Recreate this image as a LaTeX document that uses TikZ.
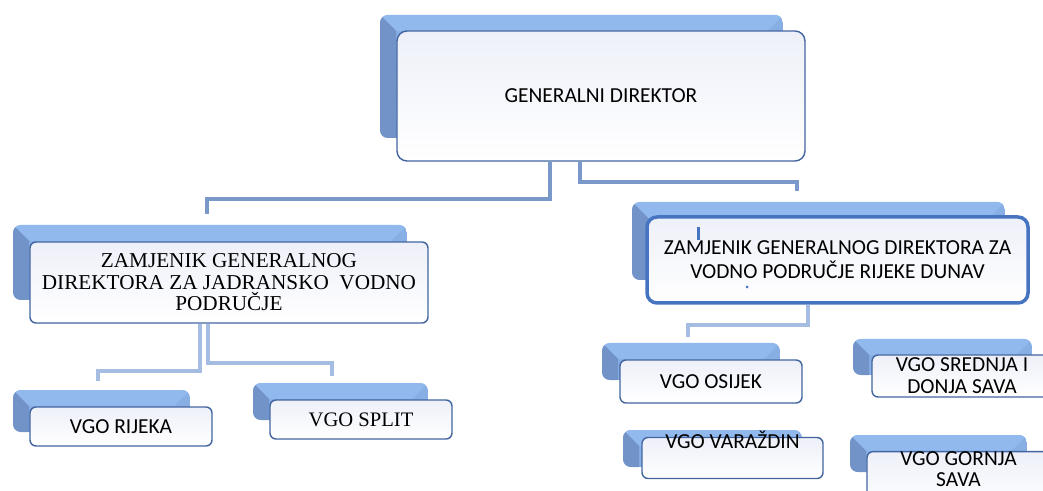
\documentclass[tikz,border=0pt]{standalone}
\usepackage{fontspec}
\setmainfont{Carlito}
\newfontfamily\timesfont{Liberation Serif}
\definecolor{backblue}{RGB}{136,175,228}
\definecolor{backtop}{RGB}{146,185,238}
\definecolor{backside}{RGB}{114,147,199}
\definecolor{frontfill}{RGB}{238,240,249}
\definecolor{frontline}{RGB}{66,101,160}
\definecolor{thickline}{RGB}{70,116,192}
\definecolor{linkdark}{RGB}{122,152,202}
\definecolor{linklight}{RGB}{166,189,227}
\tikzset{
    frontbox/.style={draw=frontline, line width=0.7pt, rounded corners=3pt,
        top color=frontfill, bottom color=white, align=center, inner sep=0pt,
        font=\fontsize{10.7}{11}\selectfont},
    link/.style={linkdark, line width=2pt},
    sublink/.style={linklight, line width=2pt}
}
\begin{document}
\begin{tikzpicture}[x=0.5pt,y=-0.5pt]
                \useasboundingbox (0,0) rectangle (1043,491);
                \foreach \xa/\ya/\xb/\yb in {380/15/783/138,13/225/407/300,632/202/1005/280,
                    13/390/190/432,253/383/428/420,602/343/780/380,853/339/1032/375,
                    623/430/802/467,850/435/1027/472}
                {
                    \begin{scope}
                        \clip[rounded corners=4pt] (\xa,\ya) rectangle (\xb,\yb);
                        \fill[backblue] (\xa,\ya) rectangle (\xb,\yb);
                        \fill[backtop] (\xa,\ya) -- (\xb,\ya) -- (\xb-16,\ya+16) -- (\xa+16,\ya+16) -- cycle;
                        \fill[backside] (\xa,\ya) -- (\xa+16,\ya+16) -- (\xa+16,\yb) -- (\xa,\yb) -- cycle;
                    \end{scope}
                }
                \node[frontbox, rounded corners=5pt, minimum width=204pt, minimum height=65pt] (gd) at (601,96) {GENERALNI DIREKTOR};
                \node[frontbox, minimum width=199pt, minimum height=40.5pt, font=\timesfont\fontsize{10.6}{10.75}\selectfont] (zjj) at (229,282.5)
                    {ZAMJENIK GENERALNOG\\DIREKTORA ZA JADRANSKO\ \ VODNO\\PODRUČJE};
                \node[frontbox, draw=thickline, line width=1.75pt, rounded corners=5pt, minimum width=190.5pt, minimum height=43pt,
                    font=\fontsize{10.7}{12}\selectfont] (zjd) at (837.5,260)
                    {ZAMJENIK GENERALNOG DIREKTORA ZA\\VODNO PODRUČJE RIJEKE DUNAV};
                \node[frontbox, minimum width=91pt, minimum height=19.5pt] (rijeka) at (121,426.5) {VGO RIJEKA};
                \node[frontbox, minimum width=91pt, minimum height=19.5pt, font=\timesfont\fontsize{10.3}{11}\selectfont] (split) at (361,419.5) {VGO SPLIT};
                \node[frontbox, minimum width=91pt, minimum height=21.5pt] (osijek) at (711,381.5) {VGO OSIJEK};
                \node[frontbox, minimum width=90pt, minimum height=21pt] (srednja) at (962,376) {VGO SREDNJA I\\DONJA SAVA};
                \node[frontbox, minimum width=90.5pt, text height=5.5pt, text depth=15pt] (varazdin) at (732.5,458) {VGO VARAŽDIN};
                \node[frontbox, minimum width=91.5pt, font=\fontsize{10.7}{10.7}\selectfont] (gornja) at (958.5,480) {VGO GORNJA\\SAVA\\\mbox{}};
                \draw[link] ([xshift=-25.5pt]gd.south) -- ++(0,37) -| ([xshift=-11pt,yshift=13.5pt]zjj.north);
                \draw[link] ([xshift=-10.5pt]gd.south) -- ++(0,20) -| ([xshift=-20.25pt,yshift=12pt]zjd.north);
                \draw[sublink] ([xshift=-14.5pt]zjj.south) -- ++(0,47) -| ([xshift=-11.5pt,yshift=12.5pt]rijeka.north);
                \draw[sublink] ([xshift=-10.5pt]zjj.south) -- ++(0,39) -| ([xshift=-14.5pt,yshift=11.5pt]split.north);
                \draw[sublink] ([xshift=-14.75pt]zjd.south) -- ++(0,20) -| ([xshift=-11.5pt,yshift=11pt]osijek.north);
                \draw[thickline, line width=1.5pt] (698,227) -- (698,240);
                \fill[thickline] (747,287) circle (1.5);
            \end{tikzpicture}
\end{document}
